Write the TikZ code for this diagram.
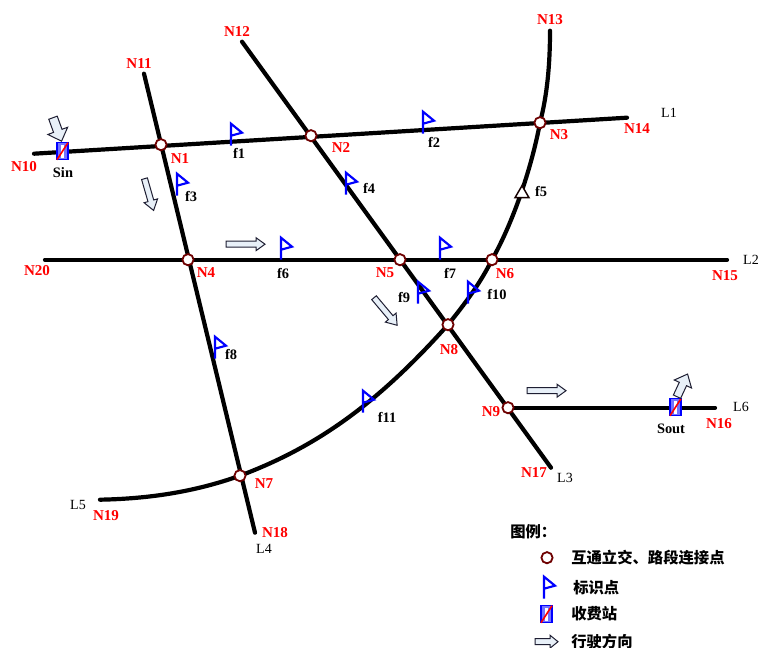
\documentclass[tikz,border=0pt]{standalone}
\usepackage{fontspec}
\setmainfont{Liberation Serif}
\newfontfamily\cjkf{Noto Sans CJK SC}
\definecolor{nred}{RGB}{255,0,0}
\definecolor{jred}{RGB}{110,0,0}
\definecolor{arrfill}{RGB}{232,240,248}
\definecolor{arrline}{RGB}{30,30,50}
\tikzset{
  road/.style={line width=3.15pt,line cap=round,black},
  junction/.style={circle,draw=jred,fill=white,line width=1.35pt,minimum size=8.4pt,inner sep=0pt},
  nlabel/.style={text=nred,font=\fontsize{11.3}{12}\selectfont\bfseries,inner sep=0pt},
  flabel/.style={text=black,font=\fontsize{10.8}{12}\selectfont\bfseries,inner sep=0pt},
  llabel/.style={text=black,font=\fontsize{10.5}{12}\selectfont,inner sep=0pt},
  legendtext/.style={text=black,anchor=west,font=\cjkf\fontsize{11.5}{12}\selectfont\bfseries,inner sep=0pt},
  flag/.pic={
    \draw[blue,line width=1.6pt,line join=miter] (0,0) -- (0,-22) -- (11,-13) -- (0,-10);
  },
  toll/.pic={
    \fill[blue!55] (-5.5,-8.5) rectangle (5.5,8.5);
    \fill[white] (-1.8,-6) rectangle (1.8,7);
    \draw[blue,line width=1.1pt] (-5.5,-8.5) rectangle (5.5,8.5);
    \draw[red,line width=1.2pt] (-5.5,8.5) -- (5.5,-8.5);
  },
  pics/dirarr/.style args={#1/#2/#3/#4}{code={
    % length / half shaft / half head / head length
    \draw[draw=arrline,fill=arrfill,line width=.75pt,line join=miter]
      (0,-#2) -- ({#1-#4},-#2) -- ({#1-#4},-#3) -- (#1,0) -- ({#1-#4},#3) -- ({#1-#4},#2) -- (0,#2) -- cycle;
  }},
}
\begin{document}
\begin{tikzpicture}[x=.75pt,y=-.75pt]
\useasboundingbox (0,-0.7) rectangle (760,647.3);
\fill[white] (0,-0.7) rectangle (760,647.3);
% free ends
\coordinate (e10) at (34,153);
\coordinate (e14) at (627,117);
\coordinate (e11) at (144,73);
\coordinate (e18) at (255,532);
\coordinate (e12) at (242,41);
\coordinate (e17) at (551,467);
\coordinate (e20) at (45,259);
\coordinate (e15) at (727,259);
\coordinate (e13) at (550,30);
\coordinate (e19) at (100,499);
\coordinate (e16) at (715,407);
% junction positions
\coordinate (p1) at (161,144);
\coordinate (p2) at (311,135);
\coordinate (p3) at (540,122);
\coordinate (p4) at (188,259);
\coordinate (p5) at (400,259);
\coordinate (p6) at (492,259);
\coordinate (p7) at (240,475);
\coordinate (p8) at (448,324);
\coordinate (p9) at (508,407);
% roads
\draw[road] (e10) -- (e14);
\draw[road] (e11) -- (e18);
\draw[road] (e12) -- (e17);
\draw[road] (e20) -- (e15);
\draw[road] (p9) -- (e16);
\draw[road] (e13) .. controls (550,65) and (547,95) .. (p3)
  .. controls (532,165) and (514,220) .. (p6)
  .. controls (480,283) and (465,303) .. (p8)
  .. controls (380,400) and (320,445) .. (p7)
  .. controls (195,491) and (150,498) .. (e19);
% junctions
\foreach \p/\n in {p1/J1,p2/J2,p3/J3,p4/J4,p5/J5,p6/J6,p7/J7,p8/J8,p9/J9}
  \node[junction] (\n) at (\p) {};
% flags
\foreach \x/\y in {231/145,423/133,177/195,346/194,281/259,440/259,215/358,418/303,468/303,363/412}
  \pic at (\x,\y) {flag};
% f5 triangle
\draw[fill=white,draw=black!80!jred,line width=1.1pt,line join=miter] (522,185) -- (515,197) -- (529,197) -- cycle;
% toll stations
\pic at (62.5,150.5) {toll};
\pic at (675.5,406.5) {toll};
% direction arrows
\pic[rotate=-70] at (53,117) {dirarr=25/4.5/10.5/11};
\pic[rotate=-74] at (144.5,178) {dirarr=33/3/7/10};
\pic at (226,243.5) {dirarr=39/3/6.5/9};
\pic[rotate=-50] at (374,297) {dirarr=36/3/7/10};
\pic at (527,390) {dirarr=39/3/6.5/9};
\pic[rotate=65] at (677,396) {dirarr=25/4/9.5/11};
% node labels
\foreach \x/\y/\t in {24/166/N10,139/63/N11,237/31/N12,550/19/N13,637/128/N14,180/158/N1,341/147/N2,559/134/N3,37/270/N20,206/272/N4,385/272/N5,505/273/N6,725/275/N15,449/349/N8,491/411/N9,264/483/N7,106/515/N19,275/532/N18,534/472/N17,719/423/N16}
  \node[nlabel] (lab\t) at (\x,\y) {\t};
\foreach \x/\y/\t in {63/172/Sin,239/153/f1,434/142/f2,191/196/f3,369/188/f4,541/191/f5,283/273/f6,450/273/f7,231/354/f8,404/297/f9,497/294/f10,387/417/f11,671/428/Sout}
  \node[flabel] (lab\t) at (\x,\y) {\t};
\foreach \x/\y/\t in {669/112/L1,751/259/L2,565/477/L3,264/548/L4,78/504/L5,741/406/L6}
  \node[llabel] (lab\t) at (\x,\y) {\t};
% legend
\node[legendtext] (legtitle) at (510,531) {图例：};
\node[junction] (legj) at (547,557) {};
\node[legendtext] (leg1) at (571,557) {互通立交、路段连接点};
\pic at (544,598) {flag};
\node[legendtext] (leg2) at (573,587) {标识点};
\pic at (546.5,613.5) {toll};
\node[legendtext] (leg3) at (571,613) {收费站};
\pic at (535,641) {dirarr=23/3/6.5/8};
\node[legendtext] (leg4) at (571,641) {行驶方向};
\end{tikzpicture}
\end{document}
